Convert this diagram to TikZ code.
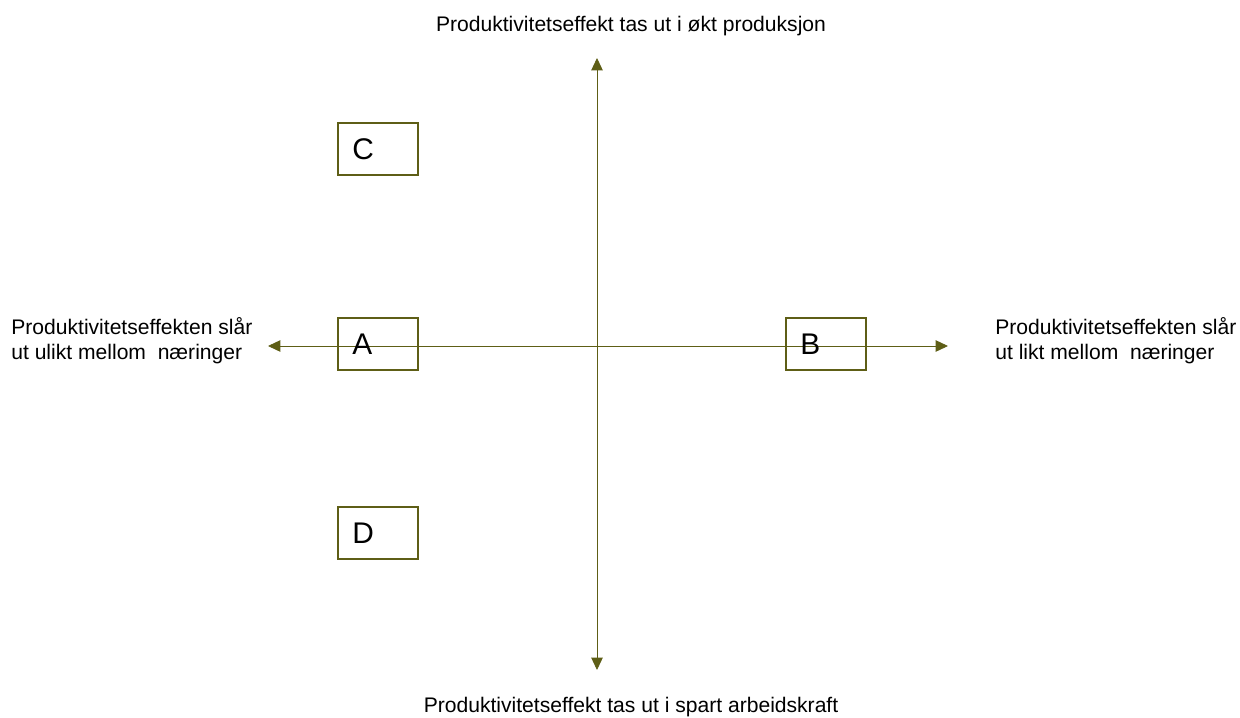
\documentclass[tikz,border=0pt]{standalone}
\usepackage{fontspec}
\setmainfont{Liberation Sans}
\usetikzlibrary{arrows.meta}
\definecolor{axisolive}{RGB}{94,94,22}

\begin{document}
\begin{tikzpicture}[x=0.02cm,y=-0.02cm]
\useasboundingbox (0,0) rectangle (1240,717);
\tikzset{
  axis/.style={color=axisolive, line width=0.5pt, -{Triangle[length=7pt,width=6.5pt]}},
  quad/.style={draw=axisolive, line width=1pt, minimum width=1.6cm, minimum height=1.04cm, inner sep=0pt},
  quadlabel/.style={font=\fontsize{17}{20}\selectfont, anchor=west, inner sep=0pt, xshift=0.3cm},
  axislabel/.style={font=\fontsize{12}{14.2}\selectfont, align=left, inner sep=0pt}
}
\coordinate (O) at (597,346);
\coordinate (top) at (597,58);
\coordinate (bottom) at (597,670);
\coordinate (left) at (268,346);
\coordinate (right) at (948,346);
% boxes
\node (C) at (378,149) [quad] {};
\node (A) at (378,344) [quad] {};
\node (B) at (826,344) [quad] {};
\node (D) at (378,533) [quad] {};
% axes
\draw[axis] (O) -- (top);
\draw[axis] (O) -- (bottom);
\draw[axis] (O) -- (left);
\draw[axis] (O) -- (right);
\node (CL) at (C.west) [quadlabel] {C};
\node (AL) at (A.west) [quadlabel] {A};
\node (BL) at (B.west) [quadlabel] {B};
\node (DL) at (D.west) [quadlabel] {D};
% axis texts
\node (toptext) at (631,26) [axislabel] {Produktivitetseffekt tas ut i økt produksjon};
\node (bottomtext) at (631,707) [axislabel] {Produktivitetseffekt tas ut i spart arbeidskraft};
\node (lefttext) at (11,341) [axislabel, anchor=west] {Produktivitetseffekten slår\\ut ulikt mellom~ næringer};
\node (righttext) at (995,341) [axislabel, anchor=west] {Produktivitetseffekten slår\\ut likt mellom~ næringer};
\end{tikzpicture}
\end{document}
